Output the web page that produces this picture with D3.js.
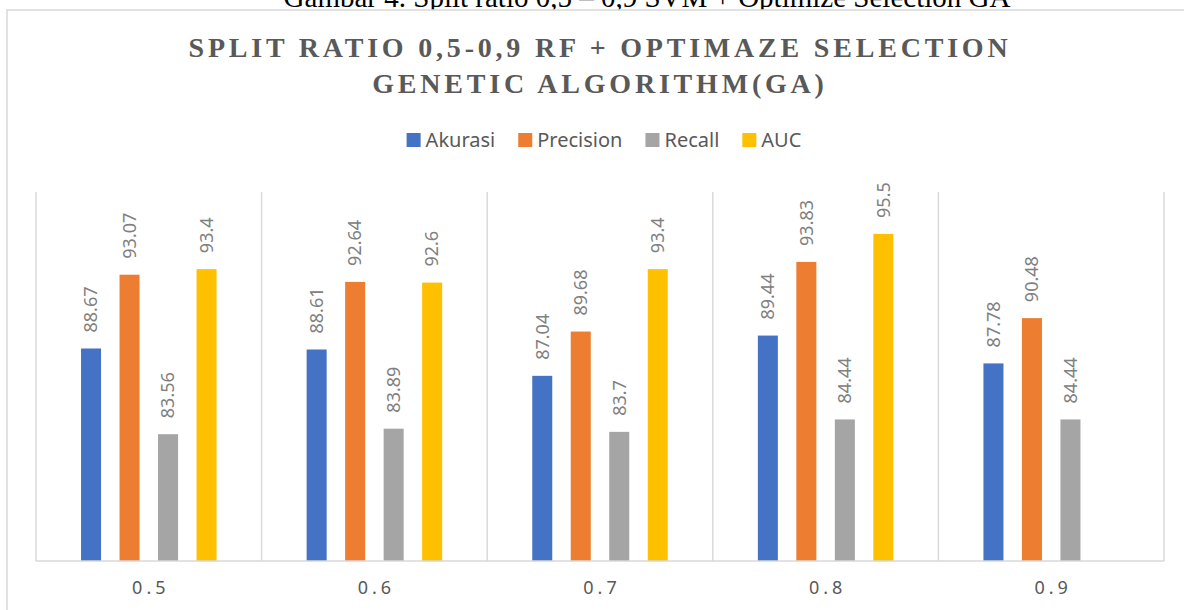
<!DOCTYPE html>
<html>
<head>
<meta charset="utf-8">
<script src="https://cdn.jsdelivr.net/npm/d3@7"></script>
<style>
  html, body { margin: 0; padding: 0; background: #fff; overflow: hidden; }
</style>
</head>
<body>
<div id="chart"></div>
<script>
// data
const categories = ["0.5", "0.6", "0.7", "0.8", "0.9"];
const seriesNames = ["Akurasi", "Precision", "Recall", "AUC"];
const akurasi = [88.67, 88.61, 87.04, 89.44, 87.78];
const precision = [93.07, 92.64, 89.68, 93.83, 90.48];
const recall = [83.56, 83.89, 83.7, 84.44, 84.44];
const auc = [93.4, 92.6, 93.4, 95.5, null];
const colors = ["#4472c4", "#ed7d31", "#a5a5a5", "#ffc000"];
const yDomain = [76, 98];

const caption = "Gambar 4. Split ratio 0,5 \u2013 0,9 SVM + Optimize Selection GA";
const titleLines = ["SPLIT RATIO 0,5-0,9 RF + OPTIMAZE SELECTION", "GENETIC ALGORITHM(GA)"];

const seriesValues = [akurasi, precision, recall, auc];

const W = 1184, H = 610;
const plot = { left: 36, right: 1164, top: 192, bottom: 561 };

const svg = d3.select("#chart").append("svg")
  .attr("width", W)
  .attr("height", H);

svg.append("rect").attr("width", W).attr("height", H).attr("fill", "#fff");

// caption of the document page, cropped at the top like in the source
svg.append("text")
  .attr("x", 647).attr("y", 7)
  .attr("text-anchor", "middle")
  .attr("font-family", "Liberation Serif, Times New Roman, serif")
  .attr("font-size", 29)
  .attr("fill", "#000")
  .text(caption);

// chart border
svg.append("rect")
  .attr("x", 7).attr("y", 10)
  .attr("width", 1186).attr("height", 640)
  .attr("fill", "#fff")
  .attr("stroke", "#d9d9d9")
  .attr("stroke-width", 1.5);

// title
svg.append("g").selectAll("text")
  .data(titleLines)
  .enter()
  .append("text")
  .attr("x", 600)
  .attr("y", (d, i) => 57 + i * 36)
  .attr("text-anchor", "middle")
  .attr("font-family", "Liberation Serif, Times New Roman, serif")
  .attr("font-weight", "bold")
  .attr("font-size", 28)
  .attr("letter-spacing", 3.8)
  .attr("fill", "#595959")
  .text((d) => d);

// scales
const x0 = d3.scaleBand()
  .domain(categories)
  .range([plot.left, plot.right]);

const groupWidth = 154;
const x1 = d3.scaleBand()
  .domain(seriesNames)
  .range([0, groupWidth])
  .paddingInner(0.48)
  .paddingOuter(0.24);

const y = d3.scaleLinear()
  .domain(yDomain)
  .range([plot.bottom, plot.top]);

// vertical gridlines between categories
const gridX = categories.map((c) => x0(c)).concat([plot.right]);
svg.append("g").selectAll("line")
  .data(gridX)
  .enter()
  .append("line")
  .attr("x1", (d) => d).attr("x2", (d) => d)
  .attr("y1", plot.top).attr("y2", plot.bottom)
  .attr("stroke", "#d9d9d9")
  .attr("stroke-width", 1.5);

// bars
const groups = svg.append("g").selectAll("g")
  .data(categories)
  .enter()
  .append("g")
  .attr("transform", (c) => `translate(${x0(c) + (x0.bandwidth() - groupWidth) / 2},0)`);

const cells = groups.selectAll("g")
  .data((c, ci) => seriesNames.map((s, si) => ({ s, si, v: seriesValues[si][ci] }))
    .filter((d) => d.v != null))
  .enter()
  .append("g");

cells.append("rect")
  .attr("x", (d) => x1(d.s))
  .attr("y", (d) => y(d.v))
  .attr("width", x1.bandwidth())
  .attr("height", (d) => plot.bottom - y(d.v))
  .attr("fill", (d) => colors[d.si]);

cells.append("text")
  .attr("transform", (d) => `translate(${x1(d.s) + x1.bandwidth() / 2},${y(d.v) - 16}) rotate(-90)`)
  .attr("dy", "0.35em")
  .attr("font-family", "Noto Sans, Open Sans, sans-serif")
  .attr("font-size", 18)
  .attr("fill", "#808080")
  .text((d) => String(d.v));

// x axis
svg.append("line")
  .attr("x1", plot.left).attr("x2", plot.right)
  .attr("y1", plot.bottom).attr("y2", plot.bottom)
  .attr("stroke", "#d9d9d9")
  .attr("stroke-width", 1.5);

const xAxis = svg.append("g")
  .attr("transform", `translate(0,${plot.bottom})`)
  .call(d3.axisBottom(x0).tickSize(0).tickPadding(20));
xAxis.select(".domain").remove();
xAxis.selectAll("text")
  .attr("font-family", "Noto Sans, Open Sans, sans-serif")
  .attr("font-size", 18)
  .attr("letter-spacing", 4)
  .attr("dx", 2)
  .attr("fill", "#595959");

// legend
const legend = svg.append("g").attr("transform", "translate(0,140)");
const items = legend.selectAll("g")
  .data(seriesNames)
  .enter()
  .append("g");
items.append("rect")
  .attr("y", -7)
  .attr("width", 14).attr("height", 14)
  .attr("fill", (d, i) => colors[i]);
items.append("text")
  .attr("x", 19)
  .attr("y", 7)
  .attr("font-family", "Noto Sans, Open Sans, sans-serif")
  .attr("font-size", 20)
  .attr("fill", "#595959")
  .text((d) => d);

const widths = [];
items.each(function () {
  widths.push(19 + this.querySelector("text").getComputedTextLength());
});
const gap = 23;
const total = d3.sum(widths) + gap * (widths.length - 1);
let offset = 604 - total / 2;
items.attr("transform", (d, i) => {
  const xPos = offset;
  offset += widths[i] + gap;
  return `translate(${xPos},0)`;
});
</script>
</body>
</html>
